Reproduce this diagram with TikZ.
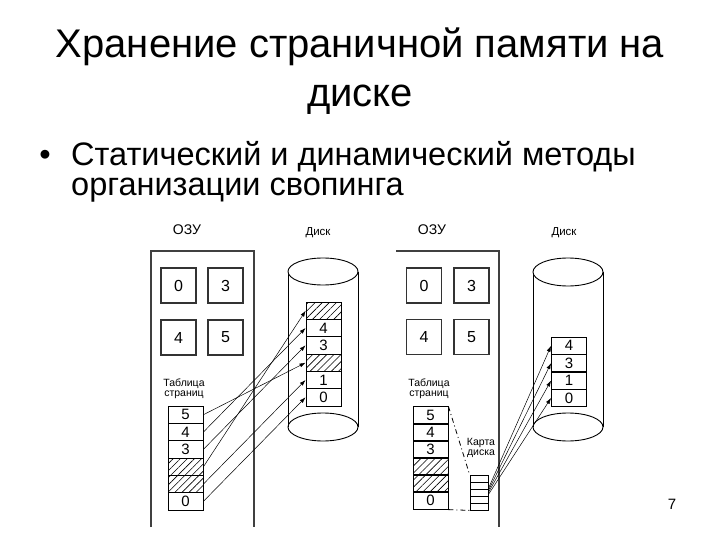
\documentclass[tikz,border=0pt]{standalone}
\usepackage{fontspec}
\setmainfont{Liberation Sans}
\usetikzlibrary{patterns.meta,arrows.meta}
\begin{document}
\begin{tikzpicture}[x=1pt,y=-1pt,
  txt/.style={inner sep=0pt},
  title/.style={txt,anchor=base,font=\fontsize{40}{44}\selectfont},
  bullet/.style={txt,anchor=base west,font=\fontsize{32.5}{34}\selectfont},
  lbl/.style={txt,font=\fontsize{14}{16}\selectfont},
  slbl/.style={txt,font=\fontsize{10.5}{12}\selectfont},
  dlbl/.style={txt,font=\fontsize{11.5}{12}\selectfont},
  frame/.style={draw=black!75,line width=1.3pt},
  membox/.style={draw=black!80,line width=1.1pt,minimum size=35pt,inner sep=0pt,font=\fontsize{16}{16}\selectfont},
  cell/.style={draw=black,line width=0.9pt,minimum width=35pt,minimum height=17.3pt,inner sep=0pt,font=\fontsize{15}{15}\selectfont},
  hatch/.style={cell,pattern={Lines[angle=45,distance=5pt,line width=0.6pt]}},
  mapcell/.style={draw=black,line width=0.8pt,minimum width=18pt,minimum height=7pt,inner sep=0pt},
  cyl/.style={draw=black,line width=0.9pt},
  ptr/.style={draw=black,line width=0.5pt,-{Latex[length=6pt,width=4pt]}},
  callout/.style={draw=black,line width=0.8pt,dash pattern=on 5pt off 3pt on 1pt off 3pt}
]
\useasboundingbox (0,0) rectangle (720,540);

% Title and bullet
\node[title] (t1) at (360,58) {Хранение страничной памяти на};
\node[title] (t2) at (360,107) {диске};
\node[txt,anchor=base,font=\fontsize{32.5}{34}\selectfont] (bd) at (45,166) {•};
\node[bullet] (b1) at (71,166) {Статический и динамический методы};
\node[bullet] (b2) at (71,196) {организации свопинга};

% ---------------- Left diagram ----------------
\node[lbl] (ozuL) at (187,230) {ОЗУ};
\node[dlbl] (diskL) at (318,233) {Диск};
\draw[frame] (151,527) -- (151,251) -- (254,251) -- (254,527);
\node[membox] (mL0) at (178.5,285.5) {0};
\node[membox] (mL3) at (225.5,285.5) {3};
\node[membox] (mL4) at (178.5,337.5) {4};
\node[membox] (mL5) at (225.5,337.5) {5};

% cylinder
\draw[cyl] (288,271.5) -- (288,427);
\draw[cyl] (358,271.5) -- (358,427);
\draw[cyl,fill=white] (323,271.5) ellipse [x radius=35, y radius=13.5];
\draw[cyl] (323,427) ellipse [x radius=35, y radius=14];

% disk slots
\node[hatch] (dL0) at (323.5,310.7) {};
\node[cell]  (dL1) at (323.5,328.0) {4};
\node[cell]  (dL2) at (323.5,345.3) {3};
\node[hatch] (dL3) at (323.5,362.7) {};
\node[cell]  (dL4) at (323.5,380.0) {1};
\node[cell]  (dL5) at (323.5,397.3) {0};

% page table
\node[slbl] (ptLa) at (184,384) {Таблица};
\node[slbl] (ptLb) at (184,395) {страниц};
\node[cell]  (pL0) at (185.5,414.7) {5};
\node[cell]  (pL1) at (185.5,432.0) {4};
\node[cell]  (pL2) at (185.5,449.3) {3};
\node[hatch] (pL3) at (185.5,466.7) {};
\node[hatch] (pL4) at (185.5,484.0) {};
\node[cell]  (pL5) at (185.5,501.3) {0};

\draw[ptr] (pL0.east) -- (dL3.west);
\draw[ptr] (pL1.east) -- (dL1.west);
\draw[ptr] (pL2.east) -- (dL2.west);
\draw[ptr] (pL3.east) -- (dL0.west);
\draw[ptr] (pL4.east) -- (dL4.west);
\draw[ptr] (pL5.east) -- (dL5.west);

% ---------------- Right diagram ----------------
\node[lbl] (ozuR) at (432,230) {ОЗУ};
\node[dlbl] (diskR) at (564,233) {Диск};
\draw[frame] (396,251) -- (499,251) -- (499,527);
\node[membox] (mR0) at (424,285.5) {0};
\node[membox] (mR3) at (471.5,285.5) {3};
\node[membox] (mR4) at (424,337) {4};
\node[membox] (mR5) at (471.5,337) {5};

\draw[cyl] (533,272) -- (533,427);
\draw[cyl] (603,272) -- (603,427);
\draw[cyl,fill=white] (568,272) ellipse [x radius=35, y radius=14];
\draw[cyl] (568,427) ellipse [x radius=35, y radius=14];

\node[cell] (dR0) at (569,345.8) {4};
\node[cell] (dR1) at (569,363.2) {3};
\node[cell] (dR2) at (569,380.6) {1};
\node[cell] (dR3) at (569,398.0) {0};

\node[slbl] (ptRa) at (429,384) {Таблица};
\node[slbl] (ptRb) at (429,395) {страниц};
\node[cell]  (pR0) at (430.5,415.5) {5};
\node[cell]  (pR1) at (430.5,432.5) {4};
\node[cell]  (pR2) at (430.5,449.5) {3};
\node[hatch] (pR3) at (430.5,466.5) {};
\node[hatch] (pR4) at (430.5,483.5) {};
\node[cell]  (pR5) at (430.5,500.5) {0};

\node[slbl] (mapa) at (481,443) {Карта};
\node[slbl] (mapb) at (481,454) {диска};
\node[mapcell] (k0) at (479,478.5) {};
\node[mapcell] (k1) at (479,485.5) {};
\node[mapcell] (k2) at (479,492.5) {};
\node[mapcell] (k3) at (479,499.5) {};
\node[mapcell] (k4) at (479,506.5) {};

\draw[callout] (pR0.north east) -- (k0.north west);
\draw[callout] (pR5.south east) -- (k4.south west);

\draw[ptr] ([yshift=4pt]k2.east) -- (dR0.west);
\draw[ptr] ([yshift=2pt]k2.east) -- (dR1.west);
\draw[ptr] (k2.east) -- (dR2.west);
\draw[ptr] ([yshift=-2pt]k2.east) -- (dR3.west);

\node[txt,font=\fontsize{15}{15}\selectfont] (pg) at (672,504) {7};
\end{tikzpicture}
\end{document}
